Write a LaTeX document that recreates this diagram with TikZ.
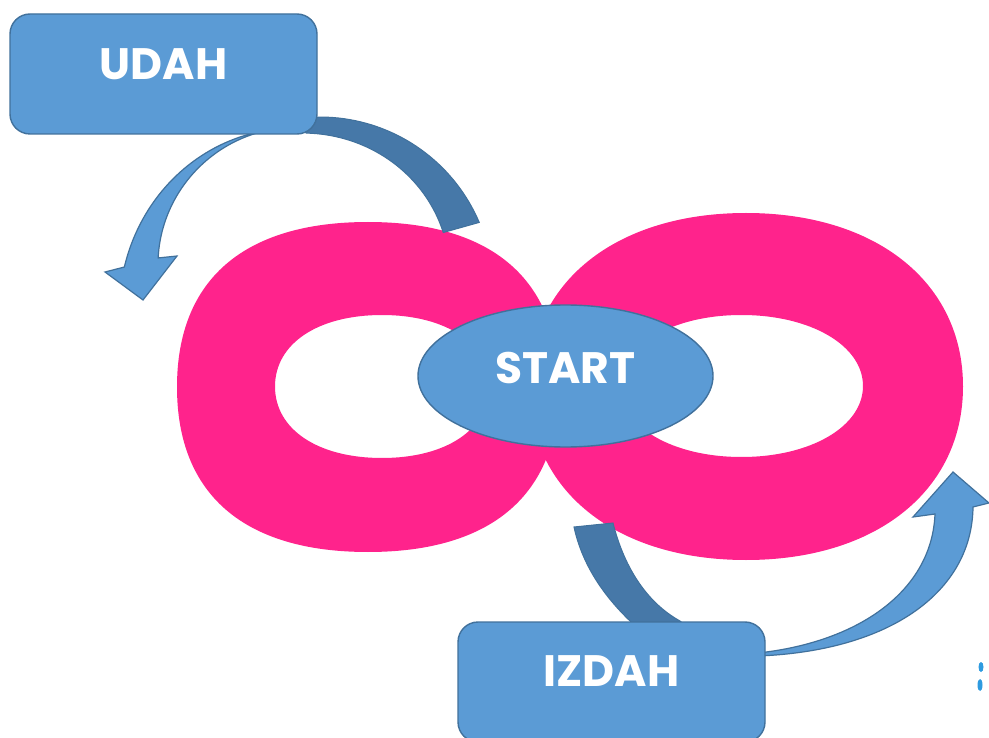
\documentclass[tikz,border=0pt]{standalone}
\usepackage{fontspec}
\setmainfont{Poppins}
\usetikzlibrary{shapes.geometric}
\definecolor{pinkc}{HTML}{FF238C}
\definecolor{bluec}{HTML}{5B9BD5}
\definecolor{bordc}{HTML}{41719C}
\definecolor{darkc}{HTML}{4678A8}
\definecolor{dotc}{HTML}{2E9BE0}
% rounded "super-ellipse" made of four cubic curves: cx, cy, rx, ry, k
\newcommand\mysuperell[5]{%
 ({#1+#3},{#2}) .. controls ({#1+#3},{#2+#5*#4}) and ({#1+#5*#3},{#2+#4}) .. ({#1},{#2+#4})
 .. controls ({#1-#5*#3},{#2+#4}) and ({#1-#3},{#2+#5*#4}) .. ({#1-#3},{#2})
 .. controls ({#1-#3},{#2-#5*#4}) and ({#1-#5*#3},{#2-#4}) .. ({#1},{#2-#4})
 .. controls ({#1+#5*#3},{#2-#4}) and ({#1+#3},{#2-#5*#4}) .. ({#1+#3},{#2}) -- cycle}
\begin{document}
\begin{tikzpicture}[x=1pt,y=-1pt,
  declare function={tA(\a)=(\a+108)/(-65.3); rA(\a)=168+32*tA(\a)-3*tA(\a)*tA(\a);
    tB(\a)=(\a+108)/(-60.8); rB(\a)=168+20*tB(\a)-23*tB(\a)*tB(\a);
    rC(\a)=136+21.5*(\a+25)/(-70);},
  box/.style={draw=bordc, fill=bluec, line width=1.4pt, rounded corners=20pt,
    minimum width=307pt, minimum height=120pt, inner sep=0pt},
  startshape/.style={ellipse, draw=bordc, fill=bluec, line width=1.4pt,
    minimum width=295pt, minimum height=142pt, inner sep=0pt},
  lbl/.style={text=white, font=\bfseries\fontsize{44}{48}\selectfont, inner sep=0pt},
  backface/.style={fill=darkc, draw=bordc, line width=1pt, line join=miter},
  frontface/.style={fill=bluec, draw=bordc, line width=1.2pt, line join=miter},
  loopfill/.style={fill=pinkc, even odd rule}]
\useasboundingbox[fill=white] (0,0) rectangle (989,738);

% infinity loops
\fill[loopfill] \mysuperell{368}{387}{191}{165}{0.65} \mysuperell{382}{386.5}{107}{71.5}{0.6};
\fill[loopfill] \mysuperell{746}{386.5}{217}{173.5}{0.6} \mysuperell{741.5}{386}{121.5}{71}{0.57};

% UDAH curved arrow (back and front faces)
\filldraw[backface] plot[domain=-95:-23, samples=40, variable=\a] ({320+173*cos(\a)},{290+173*sin(\a)})
  -- plot[domain=-25:-95, samples=40, variable=\a] ({320+rC(\a)*cos(\a)},{290+rC(\a)*sin(\a)})
  -- (300,128) -- cycle;
\filldraw[frontface] plot[domain=-108:-173.3, samples=40, variable=\a] ({320+rA(\a)*cos(\a)},{290+rA(\a)*sin(\a)})
  -- (105,272) -- (143,300) -- (177,256)
  -- plot[domain=-168.8:-108, samples=40, variable=\a] ({320+rB(\a)*cos(\a)},{290+rB(\a)*sin(\a)}) -- cycle;

% IZDAH curved arrow (back and front faces)
\filldraw[backface] (574,527) .. controls (582,564) and (603,595) .. (630,621) -- (642,633) -- (694,633)
  -- (680,621) .. controls (644,601) and (623,563) .. (613,523) -- cycle;
\filldraw[frontface] (758,653) .. controls (860,642) and (932,590) .. (935,514) -- (913,517) -- (953,472) -- (989,503)
  -- (973,507) .. controls (972,592) and (890,651) .. (758,656) -- cycle;

% boxes
\node[box] (udah) at (163.5,74) {};
\node[lbl] (udahT) at ([yshift=10pt]udah.center) {UDAH};
\node[box] (izdah) at (611.5,682) {};
\node[lbl] (izdahT) at ([yshift=11pt]izdah.center) {IZDAH};
\node[startshape] (start) at (565.5,376) {};
\node[lbl] (startT) at ([yshift=8pt]start.center) {START};

% stray marks at right edge
\fill[dotc] (981,667) ellipse (2.5pt and 5pt);
\fill[dotc] (980,685) ellipse (2.5pt and 6pt);
\end{tikzpicture}
\end{document}
